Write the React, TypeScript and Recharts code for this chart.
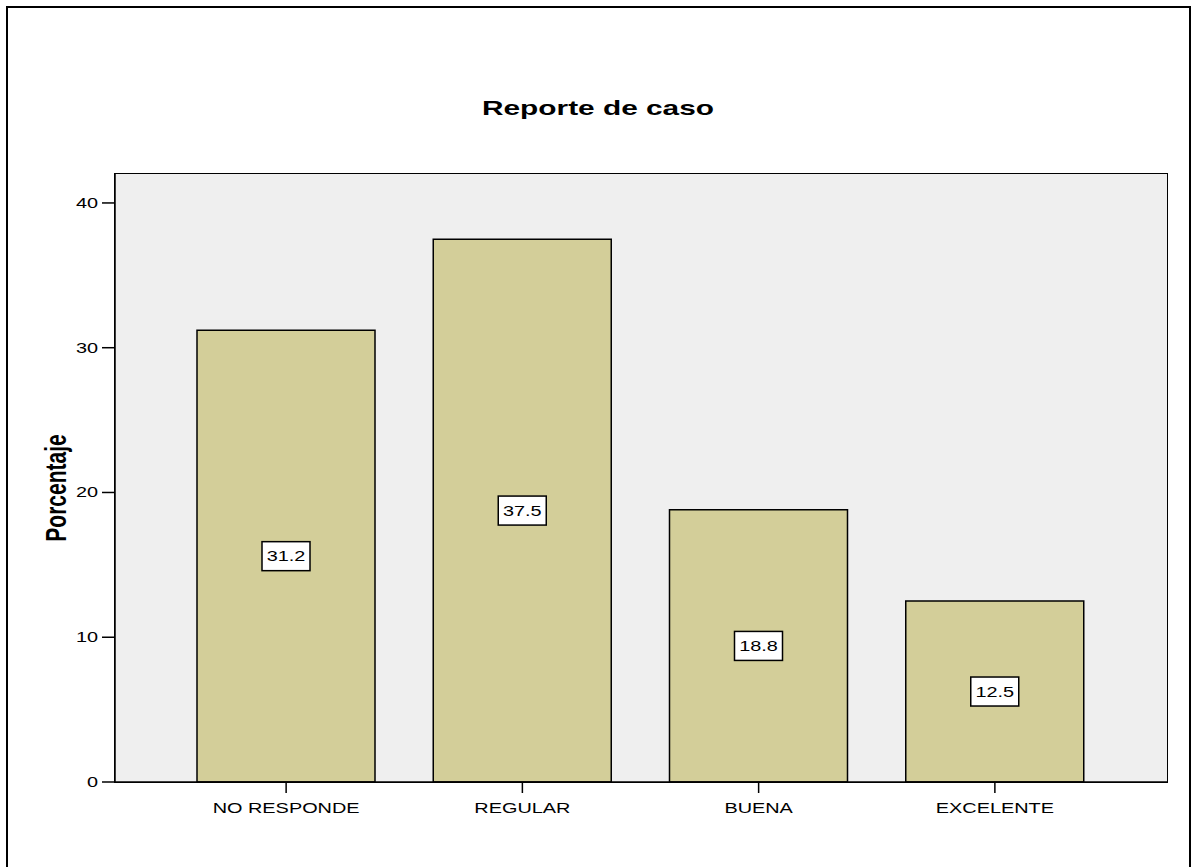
import { Bar, BarChart, CartesianGrid, LabelList, XAxis, YAxis } from "recharts";

const categories = ["NO RESPONDE", "REGULAR", "BUENA", "EXCELENTE"];
const porcentajes = [31.2, 37.5, 18.8, 12.5];
const yTicks = [0, 10, 20, 30, 40];

const data = categories.map((categoria, i) => ({
  categoria,
  porcentaje: porcentajes[i],
}));

const FONT = '"Liberation Sans", Arial, Helvetica, sans-serif';
// glyphs are drawn wide, like an export stretched sideways
const STRETCH = 1.42;

// plot box, shared by the chart margins and the frame drawn over it
const PLOT = { left: 115, top: 174, right: 1167, bottom: 782 };
const CHART_W = 1192;
const CHART_H = 867;

function XTick({ x, y, payload }: any) {
  return (
    <g transform={`translate(${x},${y + 18}) scale(${STRETCH},1)`}>
      <text x={0} y={0} textAnchor="middle" fontFamily={FONT} fontSize={14} fill="#000">
        {payload.value}
      </text>
    </g>
  );
}

function YTick({ x, y, payload }: any) {
  return (
    <g transform={`translate(${x},${y + 5}) scale(${STRETCH},1)`}>
      <text x={0} y={0} textAnchor="end" fontFamily={FONT} fontSize={14} fill="#000">
        {payload.value}
      </text>
    </g>
  );
}

function ValueBox({ x, y, width, height, value }: any) {
  const cx = x + width / 2;
  const cy = y + height / 2;
  return (
    <g>
      <rect x={cx - 24} y={cy - 14.5} width={48} height={29} fill="#fff" stroke="#000" strokeWidth={1.5} />
      <g transform={`translate(${cx},${cy + 5}) scale(${STRETCH},1)`}>
        <text x={0} y={0} textAnchor="middle" fontFamily={FONT} fontSize={14} fill="#000">
          {Number(value).toFixed(1)}
        </text>
      </g>
    </g>
  );
}

function YLabel() {
  return (
    <g transform={`translate(66,488) rotate(-90) scale(1,${STRETCH})`}>
      <text x={0} y={0} textAnchor="middle" fontFamily={FONT} fontSize={21} fontWeight="bold" fill="#000">
        Porcentaje
      </text>
    </g>
  );
}

export default function App() {
  return (
    <div
      style={{
        position: "absolute",
        left: 0,
        top: 0,
        width: CHART_W,
        height: CHART_H,
        overflow: "hidden",
        background: "#fff",
      }}
    >
      <div
        style={{
          position: "absolute",
          left: 6,
          top: 6,
          width: 1181,
          height: 900,
          border: "2px solid #000",
        }}
      />
      <div
        style={{
          position: "absolute",
          left: 0,
          width: CHART_W,
          top: 96,
          textAlign: "center",
          fontFamily: FONT,
          fontSize: 21,
          fontWeight: "bold",
          transform: `translateX(2px) scaleX(${STRETCH})`,
        }}
      >
        Reporte de caso
      </div>
      <div style={{ position: "absolute", left: 0, top: 0 }}>
        <BarChart
          width={CHART_W}
          height={CHART_H}
          data={data}
          margin={{
            top: PLOT.top,
            right: CHART_W - PLOT.right,
            bottom: CHART_H - PLOT.bottom - 30,
            left: PLOT.left - 60,
          }}
          barSize={178}
        >
          <CartesianGrid fill="#efefef" horizontal={false} vertical={false} />
          <XAxis
            dataKey="categoria"
            padding={{ left: 53, right: 54 }}
            tick={<XTick />}
            tickSize={11}
            tickMargin={2}
            stroke="#000"
            strokeWidth={1.5}
            interval={0}
            height={30}
          />
          <YAxis
            domain={[0, 42]}
            ticks={yTicks}
            tick={<YTick />}
            tickSize={13}
            tickMargin={4}
            stroke="#000"
            strokeWidth={1.5}
            width={60}
            label={<YLabel />}
          />
          <Bar
            dataKey="porcentaje"
            fill="#d3ce99"
            stroke="#000"
            strokeWidth={1.5}
            isAnimationActive={false}
          >
            <LabelList dataKey="porcentaje" content={<ValueBox />} />
          </Bar>
        </BarChart>
      </div>
      {/* frame around the plot area (top and right edges) */}
      <div
        style={{
          position: "absolute",
          left: PLOT.left - 1,
          top: PLOT.top - 1,
          width: PLOT.right - PLOT.left + 2,
          height: PLOT.bottom - PLOT.top + 2,
          boxSizing: "border-box",
          border: "1.5px solid #000",
          pointerEvents: "none",
        }}
      />
    </div>
  );
}
